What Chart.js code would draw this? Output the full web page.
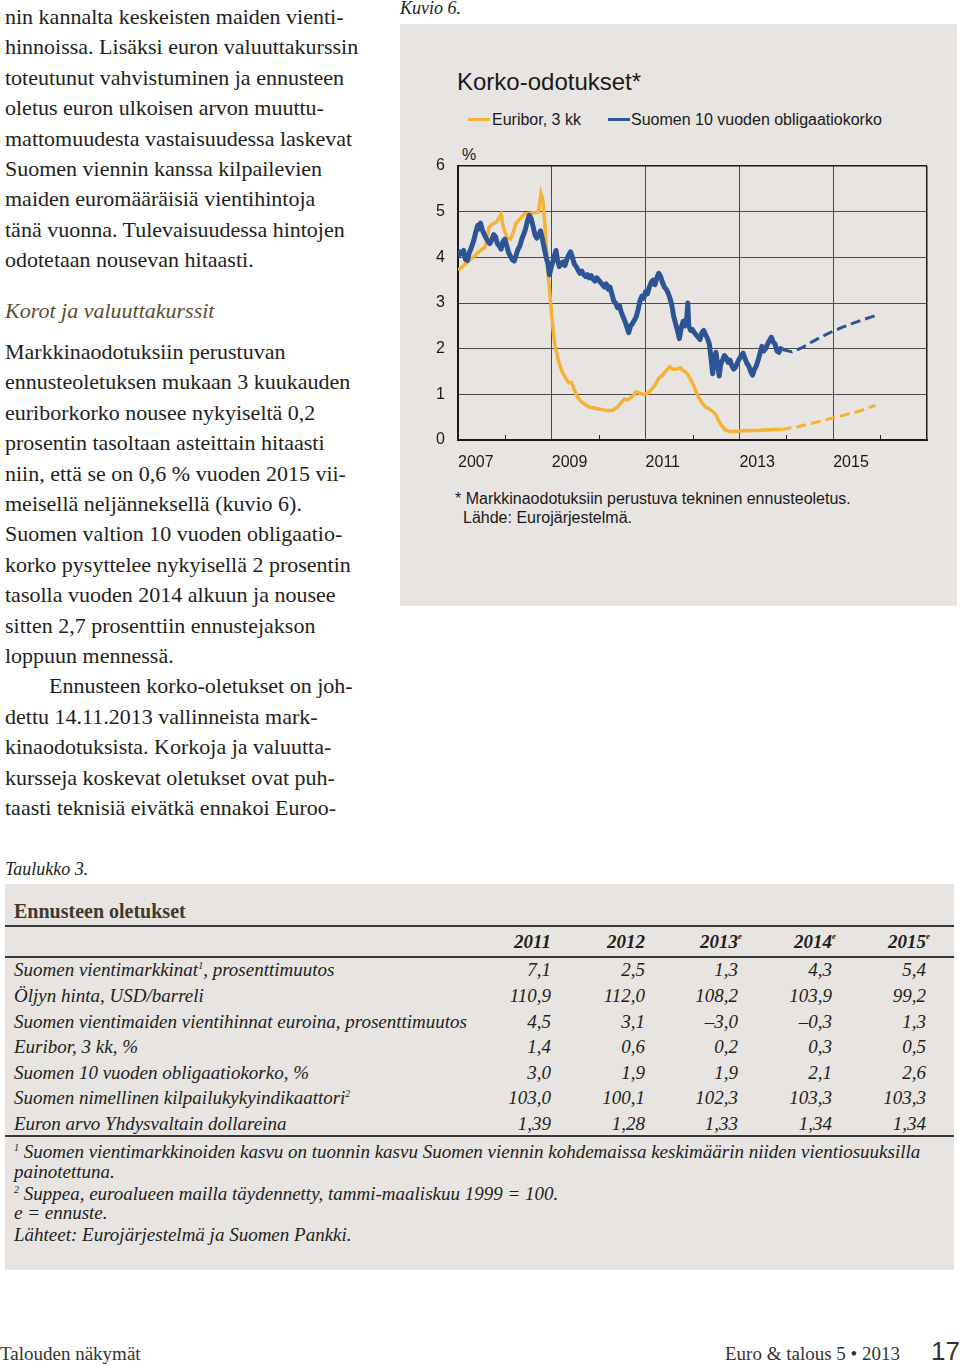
<!DOCTYPE html>
<html lang="fi">
<head>
<meta charset="utf-8">
<title>Korko-odotukset</title>
<script src="https://cdn.jsdelivr.net/npm/chart.js@4.4.1/dist/chart.umd.min.js"></script>
<style>
  html, body { margin: 0; padding: 0; background: #fff; }
  body { width: 960px; height: 1365px; position: relative; overflow: hidden;
         font-family: "Liberation Serif", "DejaVu Serif", serif; color: #221e1b; }
  .abs { position: absolute; white-space: nowrap; }
  .text { position: absolute; left: 5px; font-size: 22px; line-height: 30.4px; }
  .text div { white-space: nowrap; }
  .panel { position: absolute; background: #e7e4e1; }
  .sans { font-family: "Liberation Sans", Arial, sans-serif; color: #1a1a1a; }
  .swatch { position: absolute; height: 3px; }
  .rule { position: absolute; left: 5px; width: 949px; height: 2px; background: #3a3836; }
  .row { position: absolute; left: 0; width: 960px; height: 24px; line-height: 24px; font-style: italic; font-size: 19px; }
  .row > span { position: absolute; white-space: nowrap; }
  .sup { position: relative; top: -7px; font-size: 10px; line-height: 0; vertical-align: baseline; }
  .foot { position: absolute; left: 14px; font-style: italic; font-size: 19px; line-height: 20px; white-space: nowrap; }
</style>
</head>
<body>

<div class="text" style="top:2px">
  <div>nin kannalta keskeisten maiden vienti-</div>
  <div>hinnoissa. Lisäksi euron valuuttakurssin</div>
  <div>toteutunut vahvistuminen ja ennusteen</div>
  <div>oletus euron ulkoisen arvon muuttu-</div>
  <div>mattomuudesta vastaisuudessa laskevat</div>
  <div>Suomen viennin kanssa kilpailevien</div>
  <div>maiden euromääräisiä vientihintoja</div>
  <div>tänä vuonna. Tulevaisuudessa hintojen</div>
  <div>odotetaan nousevan hitaasti.</div>
</div>

<div class="abs" style="left:5px; top:296px; font-size:22px; line-height:30px; font-style:italic; color:#5a4c32">Korot ja valuuttakurssit</div>

<div class="text" style="top:337px">
  <div>Markkinaodotuksiin perustuvan</div>
  <div>ennusteoletuksen mukaan 3 kuukauden</div>
  <div>euriborkorko nousee nykyiseltä 0,2</div>
  <div>prosentin tasoltaan asteittain hitaasti</div>
  <div>niin, että se on 0,6 % vuoden 2015 vii-</div>
  <div>meisellä neljänneksellä (kuvio 6).</div>
  <div>Suomen valtion 10 vuoden obligaatio-</div>
  <div>korko pysyttelee nykyisellä 2 prosentin</div>
  <div>tasolla vuoden 2014 alkuun ja nousee</div>
  <div>sitten 2,7 prosenttiin ennustejakson</div>
  <div>loppuun mennessä.</div>
  <div style="padding-left:44px">Ennusteen korko-oletukset on joh-</div>
  <div>dettu 14.11.2013 vallinneista mark-</div>
  <div>kinaodotuksista. Korkoja ja valuutta-</div>
  <div>kursseja koskevat oletukset ovat puh-</div>
  <div>taasti teknisiä eivätkä ennakoi Euroo-</div>
</div>

<!-- Kuvio 6 -->
<div class="abs" style="left:400px; top:-3px; font-size:18px; line-height:22px; font-style:italic">Kuvio 6.</div>
<div class="panel" style="left:400px; top:24px; width:557px; height:582px"></div>
<div class="abs sans" style="left:457px; top:68px; font-size:24px; line-height:28px">Korko-odotukset*</div>
<div class="swatch" style="left:468px; top:118px; width:22px; background:#f5b234"></div>
<div class="abs sans" style="left:492px; top:110px; font-size:16px; line-height:20px">Euribor, 3 kk</div>
<div class="swatch" style="left:608px; top:118px; width:22px; background:#2d5595"></div>
<div class="abs sans" style="left:631px; top:110px; font-size:16px; line-height:20px">Suomen 10 vuoden obligaatiokorko</div>
<div class="abs sans" style="left:462px; top:145px; font-size:16px; line-height:20px">%</div>
<div style="position:absolute; left:400px; top:140px; width:540px; height:340px">
  <canvas id="kuvio6" width="540" height="340"></canvas>
</div>
<div class="abs sans" style="left:455px; top:489px; font-size:16px; line-height:20px">* Markkinaodotuksiin perustuva tekninen ennusteoletus.</div>
<div class="abs sans" style="left:463px; top:508px; font-size:16px; line-height:20px">Lähde: Eurojärjestelmä.</div>

<!-- Taulukko 3 -->
<div class="abs" style="left:5px; top:858px; font-size:18px; line-height:22px; font-style:italic">Taulukko 3.</div>
<div class="panel" style="left:5px; top:884px; width:949px; height:386px"></div>
<div class="abs" style="left:14px; top:899px; font-size:20px; line-height:24px; font-weight:bold; color:#3f392c">Ennusteen oletukset</div>
<div class="rule" style="top:925px"></div>
<div class="rule" style="top:956px"></div>
<div class="rule" style="top:1135px"></div>
<div id="table"></div>
<div class="foot" style="top:1142px"><span class="sup">1</span> Suomen vientimarkkinoiden kasvu on tuonnin kasvu Suomen viennin kohdemaissa keskimäärin niiden vientiosuuksilla</div>
<div class="foot" style="top:1162px">painotettuna.</div>
<div class="foot" style="top:1184px"><span class="sup">2</span> Suppea, euroalueen mailla täydennetty, tammi-maaliskuu 1999 = 100.</div>
<div class="foot" style="top:1203px">e = ennuste.</div>
<div class="foot" style="top:1225px">Lähteet: Eurojärjestelmä ja Suomen Pankki.</div>

<!-- footer -->
<div class="abs" style="left:0px; top:1342px; font-size:19px; line-height:24px; color:#333">Talouden näkymät</div>
<div class="abs" style="right:60px; top:1342px; font-size:19px; line-height:24px; color:#333">Euro &amp; talous 5 • 2013</div>
<div class="abs sans" style="left:931px; top:1336px; font-size:26px; line-height:30px; color:#333">17</div>

<script>
// --- Kuvio 6: data ---
const xYears = [2007, 2008, 2009, 2010, 2011, 2012, 2013, 2014, 2015, 2016, 2017];
const xTickLabels = ['2007', '2009', '2011', '2013', '2015'];
const yTicks = [0, 1, 2, 3, 4, 5, 6];

const euriborDates = [2007.00, 2007.10, 2007.20, 2007.30, 2007.40, 2007.50, 2007.58, 2007.62, 2007.66, 2007.72,
  2007.78, 2007.84, 2007.88, 2007.92, 2007.95, 2008.00, 2008.06, 2008.12, 2008.18, 2008.24,
  2008.30, 2008.36, 2008.42, 2008.50, 2008.58, 2008.66, 2008.72, 2008.75, 2008.77, 2008.80,
  2008.83, 2008.86, 2008.89, 2008.92, 2008.96, 2009.00, 2009.05, 2009.09, 2009.15, 2009.22,
  2009.30, 2009.36, 2009.42, 2009.48, 2009.54, 2009.62, 2009.70, 2009.80, 2009.90, 2010.00,
  2010.10, 2010.20, 2010.30, 2010.40, 2010.48, 2010.55, 2010.62, 2010.68, 2010.74, 2010.80,
  2010.88, 2010.96, 2011.04, 2011.12, 2011.20, 2011.28, 2011.36, 2011.44, 2011.52, 2011.58,
  2011.66, 2011.74, 2011.80, 2011.86, 2011.92, 2012.00, 2012.06, 2012.12, 2012.20, 2012.28,
  2012.36, 2012.44, 2012.50, 2012.56, 2012.62, 2012.70, 2012.78, 2012.86, 2012.94, 2013.02,
  2013.10, 2013.20, 2013.30, 2013.40, 2013.50, 2013.60, 2013.70, 2013.80, 2013.90];
const euriborValues = [3.72, 3.80, 3.90, 3.98, 4.08, 4.17, 4.22, 4.40, 4.65, 4.72,
  4.75, 4.80, 4.88, 4.95, 4.75, 4.55, 4.42, 4.40, 4.55, 4.75,
  4.82, 4.88, 4.95, 4.96, 4.97, 4.98, 5.00, 5.25, 5.40, 5.30,
  5.05, 4.60, 4.10, 3.65, 3.20, 2.70, 2.20, 1.95, 1.70, 1.50,
  1.35, 1.25, 1.26, 1.10, 0.95, 0.85, 0.78, 0.72, 0.70, 0.68,
  0.66, 0.64, 0.65, 0.72, 0.82, 0.90, 0.88, 0.92, 0.98, 1.05,
  1.02, 1.00, 1.02, 1.10, 1.20, 1.35, 1.42, 1.52, 1.60, 1.55,
  1.55, 1.58, 1.52, 1.48, 1.40, 1.25, 1.10, 0.95, 0.82, 0.72,
  0.68, 0.62, 0.55, 0.42, 0.32, 0.22, 0.19, 0.18, 0.19, 0.20,
  0.21, 0.20, 0.21, 0.21, 0.22, 0.22, 0.23, 0.23, 0.23];
const euriborForecastDates = [2014.25, 2014.60, 2014.95, 2015.25, 2015.55, 2015.90];
const euriborForecastValues = [0.29, 0.38, 0.47, 0.55, 0.63, 0.76];

const bondDates = [2007.00, 2007.04, 2007.08, 2007.12, 2007.16, 2007.20, 2007.24, 2007.28, 2007.33, 2007.38,
  2007.42, 2007.45, 2007.48, 2007.52, 2007.56, 2007.60, 2007.64, 2007.68, 2007.72, 2007.76,
  2007.80, 2007.84, 2007.88, 2007.92, 2007.96, 2008.00, 2008.04, 2008.08, 2008.12, 2008.16,
  2008.20, 2008.24, 2008.28, 2008.32, 2008.36, 2008.40, 2008.44, 2008.48, 2008.52, 2008.56,
  2008.60, 2008.64, 2008.68, 2008.72, 2008.76, 2008.79, 2008.82, 2008.85, 2008.88, 2008.92,
  2008.95, 2008.98, 2009.02, 2009.06, 2009.09, 2009.12, 2009.16, 2009.20, 2009.24, 2009.28,
  2009.32, 2009.36, 2009.40, 2009.44, 2009.48, 2009.52, 2009.56, 2009.60, 2009.64, 2009.68,
  2009.72, 2009.76, 2009.80, 2009.84, 2009.88, 2009.92, 2009.96, 2010.00, 2010.04, 2010.08,
  2010.12, 2010.16, 2010.20, 2010.24, 2010.28, 2010.32, 2010.36, 2010.40, 2010.44, 2010.48,
  2010.52, 2010.56, 2010.60, 2010.64, 2010.68, 2010.72, 2010.76, 2010.80, 2010.84, 2010.88,
  2010.92, 2010.96, 2011.00, 2011.04, 2011.08, 2011.12, 2011.16, 2011.20, 2011.24, 2011.28,
  2011.32, 2011.36, 2011.40, 2011.44, 2011.48, 2011.52, 2011.56, 2011.60, 2011.64, 2011.68,
  2011.72, 2011.76, 2011.80, 2011.84, 2011.88, 2011.90, 2011.92, 2011.96, 2012.00, 2012.04,
  2012.08, 2012.12, 2012.16, 2012.20, 2012.24, 2012.28, 2012.32, 2012.36, 2012.40, 2012.43,
  2012.46, 2012.50, 2012.54, 2012.57, 2012.60, 2012.64, 2012.68, 2012.72, 2012.76, 2012.80,
  2012.84, 2012.88, 2012.92, 2012.96, 2013.00, 2013.04, 2013.08, 2013.12, 2013.16, 2013.20,
  2013.24, 2013.28, 2013.32, 2013.36, 2013.40, 2013.44, 2013.48, 2013.52, 2013.56, 2013.60,
  2013.64, 2013.68, 2013.72, 2013.76, 2013.80, 2013.84, 2013.88, 2013.92];
const bondValues = [4.00, 4.12, 4.08, 4.15, 3.95, 3.93, 4.10, 4.20, 4.35, 4.55,
  4.70, 4.62, 4.75, 4.60, 4.50, 4.42, 4.35, 4.30, 4.38, 4.50,
  4.45, 4.30, 4.25, 4.18, 4.35, 4.40, 4.25, 4.10, 4.02, 3.95,
  3.92, 4.05, 4.18, 4.25, 4.40, 4.50, 4.62, 4.80, 4.92, 4.85,
  4.68, 4.50, 4.42, 4.48, 4.58, 4.45, 4.30, 4.15, 4.00, 3.85,
  3.62, 3.75, 3.90, 4.05, 4.15, 3.95, 3.80, 3.85, 3.90, 3.82,
  3.95, 4.05, 4.12, 4.00, 3.85, 3.80, 3.72, 3.65, 3.70, 3.62,
  3.58, 3.62, 3.55, 3.60, 3.52, 3.48, 3.55, 3.50, 3.45, 3.40,
  3.35, 3.42, 3.30, 3.35, 3.20, 3.05, 3.00, 2.90, 2.95, 2.80,
  2.70, 2.60, 2.48, 2.35, 2.50, 2.55, 2.62, 2.70, 2.85, 3.05,
  3.15, 3.10, 3.25, 3.20, 3.35, 3.45, 3.50, 3.40, 3.55, 3.65,
  3.58, 3.45, 3.35, 3.30, 3.22, 3.10, 2.95, 2.70, 2.55, 2.40,
  2.22, 2.45, 2.60, 2.50, 2.70, 3.00, 2.50, 2.40, 2.42, 2.35,
  2.30, 2.25, 2.20, 2.35, 2.40, 2.30, 2.22, 2.10, 1.75, 1.45,
  1.80, 1.92, 1.60, 1.40, 1.65, 1.75, 1.85, 1.80, 1.70, 1.75,
  1.62, 1.55, 1.60, 1.70, 1.78, 1.85, 1.90, 1.78, 1.68, 1.62,
  1.50, 1.42, 1.55, 1.62, 1.75, 1.90, 2.05, 1.95, 2.00, 2.10,
  2.18, 2.25, 2.15, 2.10, 1.95, 1.92, 2.00, 1.98];
const bondForecastDates = [2014.12, 2014.35, 2014.55, 2014.75, 2014.97, 2015.20, 2015.40, 2015.65, 2015.89];
const bondForecastValues = [1.93, 2.03, 2.15, 2.26, 2.37, 2.47, 2.55, 2.64, 2.72];

// --- Taulukko 3: data ---
const tableYears = ['2011', '2012', '2013', '2014', '2015'];
const tableForecastYears = ['2013', '2014', '2015'];
const tableLabels = ['Suomen vientimarkkinat<span class="sup">1</span>, prosenttimuutos', 'Öljyn hinta, USD/barreli',
  'Suomen vientimaiden vientihinnat euroina, prosenttimuutos', 'Euribor, 3 kk, %',
  'Suomen 10 vuoden obligaatiokorko, %', 'Suomen nimellinen kilpailukykyindikaattori<span class="sup">2</span>',
  'Euron arvo Yhdysvaltain dollareina'];
const tableValues = [
  ['7,1', '2,5', '1,3', '4,3', '5,4'],
  ['110,9', '112,0', '108,2', '103,9', '99,2'],
  ['4,5', '3,1', '–3,0', '–0,3', '1,3'],
  ['1,4', '0,6', '0,2', '0,3', '0,5'],
  ['3,0', '1,9', '1,9', '2,1', '2,6'],
  ['103,0', '100,1', '102,3', '103,3', '103,3'],
  ['1,39', '1,28', '1,33', '1,34', '1,34']
];

// --- Build the table ---
const colRight = [551, 645, 738, 832, 926];
const rowCenters = [970, 996, 1021.5, 1047, 1072.5, 1098, 1123.5];
const table = document.getElementById('table');
let html = '<div class="row" style="top:930px;font-weight:bold">';
tableYears.forEach((y, i) => {
  const e = tableForecastYears.includes(y) ? '<span style="position:absolute;left:100%;top:-6px;font-size:9px">e</span>' : '';
  html += `<span style="right:${960 - colRight[i]}px">${y}${e}</span>`;
});
html += '</div>';
tableLabels.forEach((label, r) => {
  html += `<div class="row" style="top:${rowCenters[r] - 12}px"><span style="left:14px">${label}</span>`;
  tableValues[r].forEach((v, i) => {
    html += `<span style="right:${960 - colRight[i]}px">${v}</span>`;
  });
  html += '</div>';
});
table.innerHTML = html;

// --- Chart ---
const toPoints = (dates, values) => dates.map((d, i) => ({ x: d, y: values[i] }));
const euriborLast = euriborDates[euriborDates.length - 1];
const bondLast = bondDates[bondDates.length - 1];

// pienet vuosimerkit x-akselin sisäpuolelle parillisille vuosille
const minorTicks = {
  id: 'minorTicks',
  afterDraw(chart) {
    const { ctx, chartArea, scales } = chart;
    ctx.save();
    ctx.strokeStyle = '#222';
    ctx.lineWidth = 1;
    scales.x.ticks.forEach(t => {
      if (t.value % 2 !== 0) return;
      const px = Math.round(scales.x.getPixelForValue(t.value)) + 0.5;
      ctx.beginPath();
      ctx.moveTo(px, chartArea.bottom);
      ctx.lineTo(px, chartArea.bottom - 5);
      ctx.stroke();
    });
    ctx.restore();
  }
};

const tickFont = { family: '"Liberation Sans", Arial, sans-serif', size: 16 };

new Chart(document.getElementById('kuvio6'), {
  type: 'line',
  data: {
    datasets: [
      {
        label: 'Euribor, 3 kk',
        data: toPoints(euriborDates.concat(euriborForecastDates), euriborValues.concat(euriborForecastValues)),
        borderColor: '#f5b234',
        borderWidth: 3.5,
        pointRadius: 0,
        tension: 0,
        order: 2,
        segment: {
          borderDash: ctx => ctx.p0.parsed.x >= euriborLast ? [10, 5] : undefined,
          borderWidth: ctx => ctx.p0.parsed.x >= euriborLast ? 3 : undefined
        }
      },
      {
        label: 'Suomen 10 vuoden obligaatiokorko',
        data: toPoints(bondDates.concat(bondForecastDates), bondValues.concat(bondForecastValues)),
        borderColor: '#2d5595',
        borderWidth: 5,
        borderJoinStyle: 'round',
        pointRadius: 0,
        tension: 0,
        order: 1,
        segment: {
          borderDash: ctx => ctx.p0.parsed.x >= bondLast ? [10, 5] : undefined,
          borderWidth: ctx => ctx.p0.parsed.x >= bondLast ? 3 : undefined
        }
      }
    ]
  },
  options: {
    responsive: false,
    animation: false,
    devicePixelRatio: 1,
    layout: { padding: { top: 26, right: 11, bottom: 10, left: 0 } },
    plugins: { legend: { display: false }, tooltip: { enabled: false } },
    scales: {
      x: {
        type: 'linear',
        min: xYears[0],
        max: xYears[xYears.length - 1],
        afterBuildTicks: s => { s.ticks = xYears.map(v => ({ value: v })); },
        afterFit: s => { s.height = 30; },
        ticks: {
          autoSkip: false,
          maxRotation: 0,
          align: 'start',
          padding: 13,
          color: '#1a1a1a',
          font: tickFont,
          callback: v => xTickLabels.includes(String(v)) ? String(v) : ''
        },
        grid: {
          drawTicks: false,
          color: ctx => (ctx.tick && ctx.tick.value % 2 === 1) ? (ctx.tick.value === 2017 ? '#1a1a1a' : '#4a4a4a') : 'rgba(0,0,0,0)',
          lineWidth: ctx => (ctx.tick && ctx.tick.value === 2017) ? 1.5 : 1
        },
        border: { color: '#1a1a1a', width: 2 }
      },
      y: {
        min: yTicks[0],
        max: yTicks[yTicks.length - 1],
        afterBuildTicks: s => { s.ticks = yTicks.map(v => ({ value: v })); },
        afterFit: s => { s.width = 58; },
        ticks: { padding: 13, color: '#1a1a1a', font: tickFont },
        grid: {
          drawTicks: false,
          color: ctx => (ctx.tick && ctx.tick.value === 6) ? '#1a1a1a' : '#4a4a4a',
          lineWidth: ctx => (ctx.tick && ctx.tick.value === 6) ? 1.5 : 1
        },
        border: { color: '#1a1a1a', width: 2 }
      }
    }
  },
  plugins: [minorTicks]
});
</script>
</body>
</html>
